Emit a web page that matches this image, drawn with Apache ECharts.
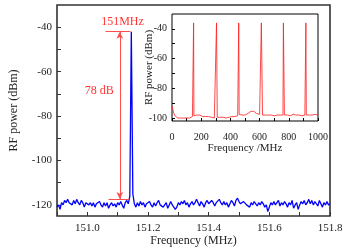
<!DOCTYPE html>
<html><head><meta charset="utf-8">
<script src="https://cdn.jsdelivr.net/npm/echarts@6/dist/echarts.min.js"></script>
<style>html,body{margin:0;padding:0;background:#fff}#c{width:348px;height:252px}</style>
</head><body><div id="c"></div>
<script>
// ---- main spectrum (span 150.9 - 151.8 MHz, sample step 0.005 MHz) ----
const mainStart = 150.9;
const mainStep = 0.005;
const mainPower = [
 -121,-120,-122,-119,-120,-118,-119,-117.5,-119,-118.5,
 -120,-118,-119.5,-117.5,-119,-120,-118,-119,-121,-119,
 -118.5,-120,-119,-120.5,-119,-121,-119.5,-120,-118.5,-120,
 -121,-119,-120.5,-119,-121.5,-120,-119,-120.5,-119.5,-121,
 -119,-120,-118.5,-120,-121.5,-119,-118,-119.5,-116,-42,
 -115,-119.5,-121,-119,-120.5,-118.5,-120,-119,-121,-119.5,
 -120,-118.5,-120,-121,-119,-120.5,-119,-118,-120,-119.5,
 -121,-120,-119,-121.5,-120,-118.5,-120,-119.5,-122,-121,
 -119,-120,-118.5,-119.5,-118,-120,-119,-121,-119.5,-118.5,
 -120,-119,-117.5,-119,-120.5,-118.5,-119.5,-121,-119,-118,
 -119.5,-120,-118,-119,-120.5,-119,-118.5,-117.5,-119,-120,
 -118.5,-120,-119,-121,-119.5,-118,-119,-120.5,-118,-117,
 -118.5,-119.5,-120,-118.5,-119,-120,-119.5,-121,-119,-120,
 -118.5,-119,-120.5,-119,-120,-118.5,-119.5,-121,-120,-123,
 -121,-119,-120,-118.5,-120,-119,-118,-120.5,-119,-120,
 -118.5,-119.5,-121,-119,-120,-118,-121.5,-120,-119,-122,
 -120,-118.5,-119.5,-118,-120,-119,-117.5,-119.5,-118,-120,
 -118.5,-119,-120.5,-118,-119.5,-121,-119,-120,-118.5,-120,-119.5
];
const mainXTicks = [151.0, 151.2, 151.4, 151.6, 151.8];
const mainYLabels = [-120, -100, -80, -60, -40];
const mainYTicks = [-120, -110, -100, -90, -80, -70, -60, -50, -40];

// ---- annotation (78 dB arrow and text) ----
const arrowX = 151.107;
const arrowTop = -42;
const arrowBottom = -117.3;
const topBarX = [151.06, 151.142];
const bottomBarX = [151.07, 151.138];
const annoText = ['151MHz', '78 dB'];
const annoX = [151.116, 151.039];
const annoY = [-37.4, -68.8];

// ---- inset: wide spectrum 0 - 1000 MHz, baseline step 10 MHz ----
const insetStart = 0;
const insetStep = 10;
const insetPower = [
 -92,-96,-98.5,-99.5,-100,-100.5,-100,-100.5,-100,-100.5,
 -100,-100.5,-100,-99.5,-99,-98.5,-98.5,-98,-98.5,-98,
 -98.5,-99,-98.5,-99,-99.5,-99,-99.5,-99.5,-99.5,-100,
 -99.5,-99.5,-100,-99.5,-100,-99.5,-99.5,-100,-99.5,-99.5,
 -99.5,-99,-99.5,-99,-99,-98.5,-97.5,-97.5,-98,-98,
 -98,-97.5,-97,-96.5,-95.5,-95,-95.5,-96.5,-97,-97,
 -97.5,-97.5,-98,-98.5,-98,-98.5,-98,-98.5,-98,-98,
 -98.5,-98,-98,-97.5,-98,-98,-98,-98,-98.5,-98,
 -98,-98.5,-98,-97.5,-98,-98,-98.5,-98,-98,-98.5,
 -98,-98,-98,-97.5,-98,-98,-98,-98,-97.5,-98,-98
];
const insetPeakFreq = [148, 305, 457, 612, 763, 917];
const insetPeakPower = [-36, -36, -36, -36, -36, -36];
const insetXLabels = [0, 200, 400, 600, 800, 1000];
const insetYLabels = [-100, -80, -60, -40];
const insetYTicks = [-100, -90, -80, -70, -60, -50, -40];

// ---- build series data ----
const mainData = mainPower.map((v, i) => [+(mainStart + i * mainStep).toFixed(4), v]);
const insetData = insetPower.map((v, i) => [insetStart + i * insetStep, v])
  .concat(insetPeakFreq.map((f, i) => [f, insetPeakPower[i]]))
  .sort((a, b) => a[0] - b[0]);
const annoData = annoText.map((t, i) => ({ name: t, value: [annoX[i], annoY[i]] }));

const FONT = 'Liberation Serif';
const TXT = '#222';
const chart = echarts.init(document.getElementById('c'), null, { renderer: 'canvas' });
chart.setOption({
  animation: false,
  backgroundColor: '#fff',
  grid: [
    { left: 54, right: 18, top: 5, bottom: 35, show: true, borderColor: '#333', borderWidth: 1.6, backgroundColor: 'transparent', z: 0 },
    { left: 172, top: 14, width: 146, height: 107, show: true, borderColor: '#000', borderWidth: 1, backgroundColor: '#fff', z: 10 }
  ],
  xAxis: [
    {
      gridIndex: 0, type: 'value', min: 150.9, max: 151.8, interval: 0.1,
      name: 'Frequency (MHz)', nameLocation: 'middle', nameGap: 19, nameMoveOverlap: false,
      nameTextStyle: { fontFamily: FONT, fontSize: 12, color: TXT },
      axisLine: { show: false }, splitLine: { show: false },
      axisTick: { show: true, inside: true, length: 4, lineStyle: { color: '#333' } },
      axisLabel: {
        fontFamily: FONT, fontSize: 11, color: TXT, margin: 7, showMinLabel: true, showMaxLabel: true,
        formatter: v => (mainXTicks.some(t => Math.abs(t - v) < 1e-6) ? v.toFixed(1) : '')
      }
    },
    {
      gridIndex: 1, type: 'value', min: 0, max: 1000, interval: 100, z: 11,
      name: 'Frequency /MHz', nameLocation: 'middle', nameGap: 22, nameMoveOverlap: false,
      nameTextStyle: { fontFamily: FONT, fontSize: 11, color: TXT },
      axisLine: { show: false }, splitLine: { show: false },
      axisTick: { show: true, inside: true, length: 3, lineStyle: { color: '#000' } },
      axisLabel: {
        fontFamily: FONT, fontSize: 10, color: TXT, margin: 11,
        formatter: v => (insetXLabels.indexOf(Math.round(v)) >= 0 ? String(Math.round(v)) : '')
      }
    }
  ],
  yAxis: [
    {
      gridIndex: 0, type: 'value', min: -125, max: -30,
      name: 'RF power (dBm)', nameLocation: 'middle', nameGap: 37, nameMoveOverlap: false,
      nameTextStyle: { fontFamily: FONT, fontSize: 12, color: TXT },
      axisLine: { show: false }, splitLine: { show: false },
      axisTick: { show: true, inside: true, length: 4, customValues: mainYTicks, lineStyle: { color: '#333' } },
      axisLabel: { fontFamily: FONT, fontSize: 11, color: TXT, margin: 5, customValues: mainYLabels }
    },
    {
      gridIndex: 1, type: 'value', min: -102, max: -30, z: 11,
      name: 'RF power (dBm)', nameLocation: 'middle', nameGap: 17, nameMoveOverlap: false,
      nameTextStyle: { fontFamily: FONT, fontSize: 11, color: TXT },
      axisLine: { show: false }, splitLine: { show: false },
      axisTick: { show: true, inside: true, length: 3, customValues: insetYTicks, lineStyle: { color: '#000' } },
      axisLabel: { fontFamily: FONT, fontSize: 10, color: TXT, margin: 5, customValues: insetYLabels }
    }
  ],
  series: [
    {
      type: 'line', xAxisIndex: 0, yAxisIndex: 0, data: mainData, showSymbol: false, z: 2,
      lineStyle: { color: '#0000ff', width: 1.3 },
      markLine: {
        silent: true, animation: false, symbol: ['none', 'none'],
        label: { show: false },
        lineStyle: { color: '#ff4d4d', width: 1, type: 'solid' },
        data: [
          [{ coord: [arrowX, arrowTop], symbol: 'arrow', symbolSize: [5, 7] },
           { coord: [arrowX, arrowBottom], symbol: 'arrow', symbolSize: [5, 7] }],
          [{ coord: [topBarX[0], arrowTop] }, { coord: [topBarX[1], arrowTop] }],
          [{ coord: [bottomBarX[0], arrowBottom] }, { coord: [bottomBarX[1], arrowBottom] }]
        ]
      }
    },
    {
      type: 'scatter', xAxisIndex: 0, yAxisIndex: 0, data: annoData, symbolSize: 1, z: 3,
      itemStyle: { color: 'rgba(0,0,0,0)' },
      label: { show: true, position: 'inside', formatter: p => p.name, fontFamily: FONT, fontSize: 12, color: '#ff0000' }
    },
    {
      type: 'line', xAxisIndex: 1, yAxisIndex: 1, data: insetData, showSymbol: false, z: 12,
      lineStyle: { color: '#ff1a1a', width: 0.8 }
    }
  ]
});
</script></body></html>
